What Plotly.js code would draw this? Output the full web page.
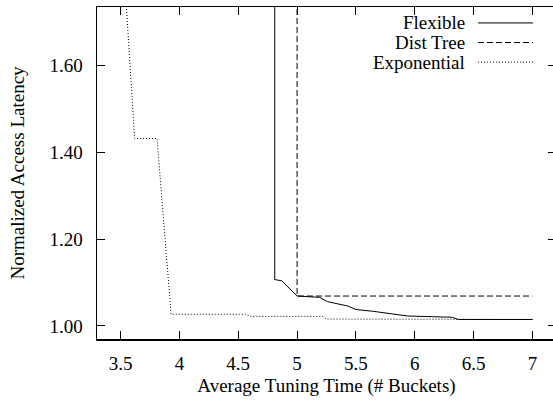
<!DOCTYPE html>
<html>
<head>
<meta charset="utf-8">
<script src="https://cdn.plot.ly/plotly-3.0.1.min.js"></script>
<style>
html, body { margin: 0; padding: 0; overflow: hidden; background: #fff; }
#chart { width: 560px; height: 400px; }
</style>
</head>
<body>
<div id="chart"></div>
<script>
// Data
const seriesNames = ["Flexible", "Dist Tree", "Exponential"];

const flexibleX = [4.81, 4.81, 4.87, 5.0, 5.19, 5.26, 5.43, 5.5, 5.64, 5.81, 5.94, 6.32, 6.37, 7.0];
const flexibleY = [2.0, 1.107, 1.104, 1.069, 1.066, 1.056, 1.046, 1.038, 1.034, 1.028, 1.023, 1.020, 1.015, 1.015];

const distTreeX = [5.0, 5.0, 7.0];
const distTreeY = [2.0, 1.069, 1.069];

const exponentialX = [3.53, 3.62, 3.81, 3.93, 4.56, 4.61, 5.22, 5.25, 7.0];
const exponentialY = [1.82, 1.432, 1.432, 1.027, 1.027, 1.022, 1.022, 1.016, 1.015];

const xTitle = "Average Tuning Time (# Buckets)";
const yTitle = "Normalized Access Latency";

const FONT = "Liberation Serif, Times New Roman, serif";
const FS = 19;
const dashes = ["solid", "6px,3px", "1px,2px"];

const traces = [
  {x: flexibleX, y: flexibleY},
  {x: distTreeX, y: distTreeY},
  {x: exponentialX, y: exponentialY}
].map((d, i) => ({
  x: d.x, y: d.y, name: seriesNames[i], type: "scatter", mode: "lines",
  line: {color: "#000", width: 1, dash: dashes[i]},
  showlegend: false, hoverinfo: "skip"
}));

// Manual gnuplot-style legend: text right-aligned, sample to the right
const legendRows = [0.952, 0.893, 0.834];
const annotations = seriesNames.map((n, i) => ({
  xref: "paper", yref: "paper", x: 0.806, y: legendRows[i],
  xanchor: "right", yanchor: "middle", text: n, showarrow: false,
  font: {family: FONT, size: FS, color: "#000"}
}));
const shapes = seriesNames.map((n, i) => ({
  type: "line", xref: "paper", yref: "paper",
  x0: 0.830, x1: 0.950, y0: legendRows[i], y1: legendRows[i],
  line: {color: "#000", width: 1, dash: dashes[i]}
}));

const axisCommon = {
  showline: true, linecolor: "#000", linewidth: 1.5, mirror: "allticks",
  ticks: "inside", ticklen: 8, tickwidth: 1, tickcolor: "#000",
  showgrid: false, zeroline: false,
  tickfont: {family: FONT, size: FS, color: "#000"}
};

const layout = {
  width: 560, height: 400,
  margin: {l: 97, r: 4, t: 7, b: 61},
  paper_bgcolor: "#fff", plot_bgcolor: "#fff",
  font: {family: FONT, size: FS, color: "#000"},
  xaxis: Object.assign({}, axisCommon, {
    range: [3.3, 7.2], tick0: 3.5, dtick: 0.5,
    ticklabelstandoff: 7,
    title: {text: xTitle, font: {family: FONT, size: FS, color: "#000"}, standoff: 5}
  }),
  yaxis: Object.assign({}, axisCommon, {
    range: [0.97, 1.735], tick0: 1.0, dtick: 0.2, tickformat: ".2f",
    ticklabelstandoff: 9,
    title: {text: yTitle, font: {family: FONT, size: FS, color: "#000"}, standoff: 20}
  }),
  annotations: annotations,
  shapes: shapes
};

Plotly.newPlot("chart", traces, layout, {staticPlot: true, displayModeBar: false});
</script>
</body>
</html>
